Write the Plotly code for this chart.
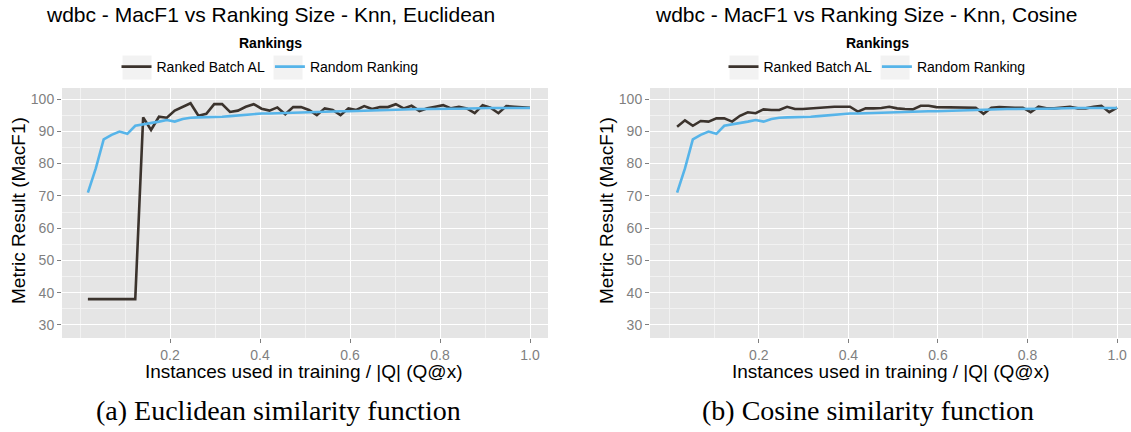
import plotly.graph_objects as go

# ---------------- data ----------------
n_points = 57
fractions = [k / n_points for k in range(1, n_points + 1)]

ranked_euclidean = [38.0, 38.0, 38.0, 38.0, 38.0, 38.0, 38.0, 94.3, 90.4, 94.5,
                    94.2, 96.4, 97.6, 98.7, 94.8, 95.4, 98.4, 98.4, 96.0, 96.4,
                    97.6, 98.4, 97.0, 96.4, 97.4, 95.3, 97.5, 97.5, 96.6, 95.0,
                    97.1, 96.6, 95.0, 97.1, 96.6, 97.8, 96.9, 97.5, 97.5, 98.4,
                    97.1, 97.9, 96.3, 97.1, 97.6, 98.1, 97.1, 97.6, 97.1, 95.6,
                    98.1, 97.3, 95.6, 97.8, 97.6, 97.5, 97.3]

ranked_cosine = [91.4, 93.4, 91.7, 93.2, 93.0, 94.0, 94.0, 93.0, 94.8, 95.9,
                 95.6, 96.8, 96.6, 96.6, 97.6, 96.9, 96.9, 97.1, 97.3, 97.6,
                 97.6, 97.6, 97.6, 96.1, 97.1, 97.1, 97.2, 97.6, 97.1, 96.9,
                 96.8, 97.9, 97.9, 97.5, 97.5, 97.5, 97.5, 97.5, 97.3, 95.4,
                 97.3, 97.5, 97.3, 97.3, 97.3, 95.9, 97.6, 97.1, 97.1, 97.3,
                 97.6, 97.1, 97.1, 97.6, 97.9, 95.9, 97.3]

random_ranking = [71.0, 78.5, 87.5, 88.9, 89.9, 89.2, 91.7, 92.1, 92.4, 93.0,
                  93.5, 93.0, 93.8, 94.2, 94.3, 94.3, 94.4, 94.5, 94.7, 94.9,
                  95.2, 95.4, 95.5, 95.5, 95.6, 95.6, 95.7, 95.8, 95.9, 95.9,
                  96.0, 96.1, 96.2, 96.2, 96.3, 96.4, 96.5, 96.5, 96.6, 96.7,
                  96.8, 96.9, 96.9, 96.9, 97.0, 97.0, 97.0, 97.0, 97.1, 97.1,
                  97.1, 97.2, 97.2, 97.2, 97.3, 97.3, 97.2]

series_names = ["Ranked Batch AL", "Random Ranking"]
titles = ["wdbc - MacF1 vs Ranking Size - Knn, Euclidean",
          "wdbc - MacF1 vs Ranking Size - Knn, Cosine"]
captions = ["(a) Euclidean similarity function", "(b) Cosine similarity function"]
x_ticks = [0.2, 0.4, 0.6, 0.8, 1.0]
x_tick_labels = ["0.2", "0.4", "0.6", "0.8", "1.0"]
y_ticks = [30, 40, 50, 60, 70, 80, 90, 100]
x_label = "Instances used in training / |Q| (Q@x)"
y_label = "Metric Result (MacF1)"

# ---------------- style ----------------
W, H = 1131, 432
RANKED_COLOR = "#3b332d"
RANDOM_COLOR = "#56B4E9"
PANEL = "#E5E5E5"
FONT = "Liberation Sans"

def px_x(p):
    return p / W

def px_y(p):
    return 1 - p / H

fig = go.Figure()

panels = [
    dict(xa="x", ya="y", leg="legend", ranked=ranked_euclidean),
    dict(xa="x2", ya="y2", leg="legend2", ranked=ranked_cosine),
]
for i, p in enumerate(panels):
    fig.add_trace(go.Scatter(x=fractions, y=p["ranked"], mode="lines",
                             name=series_names[0], xaxis=p["xa"], yaxis=p["ya"],
                             legend=p["leg"],
                             line=dict(color=RANKED_COLOR, width=2.6)))
    fig.add_trace(go.Scatter(x=fractions, y=random_ranking, mode="lines",
                             name=series_names[1], xaxis=p["xa"], yaxis=p["ya"],
                             legend=p["leg"],
                             line=dict(color=RANDOM_COLOR, width=2.6)))

y_dom = [px_y(338), px_y(88)]
x_doms = [[px_x(62), px_x(548)], [px_x(650), px_x(1131)]]
x_ranges = [[-0.04, 1.04], [-0.043, 1.031]]

def xaxis_cfg(dom, rng, anchor):
    return dict(domain=dom, range=rng, anchor=anchor,
                tickmode="array", tickvals=x_ticks, ticktext=x_tick_labels,
                ticks="outside", ticklen=4, tickcolor="#7f7f7f", tickwidth=1,
                tickfont=dict(family=FONT, size=14, color="#7f7f7f"),
                showgrid=True, gridcolor="white", gridwidth=1.2,
                minor=dict(tickmode="array", tickvals=[0.0, 0.1, 0.3, 0.5, 0.7, 0.9],
                           showgrid=True, gridcolor="#F2F2F2", gridwidth=0.6, ticks=""),
                zeroline=False, showline=False, fixedrange=True)

def yaxis_cfg(anchor):
    return dict(domain=y_dom, range=[25.97, 103.41], anchor=anchor,
                tickmode="array", tickvals=y_ticks,
                ticks="outside", ticklen=4, tickcolor="#7f7f7f", tickwidth=1,
                tickfont=dict(family=FONT, size=14, color="#7f7f7f"),
                showgrid=True, gridcolor="white", gridwidth=1.2,
                minor=dict(tickmode="array", tickvals=[35, 45, 55, 65, 75, 85, 95],
                           showgrid=True, gridcolor="#F2F2F2", gridwidth=0.6, ticks=""),
                zeroline=False, showline=False, fixedrange=True)

legend_common = dict(orientation="h", xanchor="center", yanchor="middle",
                     y=px_y(67), font=dict(family=FONT, size=14, color="black"),
                     bgcolor="rgba(0,0,0,0)", itemwidth=30, tracegroupgap=0)

fig.update_layout(
    width=W, height=H,
    margin=dict(l=0, r=0, t=0, b=0),
    paper_bgcolor="white",
    plot_bgcolor=PANEL,
    font=dict(family=FONT, color="black"),
    xaxis=xaxis_cfg(x_doms[0], x_ranges[0], "y"),
    yaxis=yaxis_cfg("x"),
    xaxis2=xaxis_cfg(x_doms[1], x_ranges[1], "y2"),
    yaxis2=yaxis_cfg("x2"),
    legend=dict(x=px_x(270), **legend_common),
    legend2=dict(x=px_x(877), **legend_common),
)

for xa, ya in [("x", "y"), ("x2", "y2")]:
    fig.add_shape(type="rect", xref=f"{xa} domain", yref=f"{ya} domain",
                  x0=0, x1=1, y0=0, y1=1, fillcolor=PANEL, line_width=0,
                  layer="below")

# grey legend key backgrounds (ggplot style)
for kx in [122, 273, 729, 880]:
    fig.add_shape(type="rect", xref="paper", yref="paper",
                  x0=px_x(kx), x1=px_x(kx + 30), y0=px_y(80), y1=px_y(55),
                  fillcolor="#F2F2F2", line=dict(color="white", width=1), layer="below")

ann = []
title_cx = [270, 866]
legend_cx = [270, 877]
xlabel_cx = [303, 890]
ylabel_x = [18, 606]
caption_cx = [278, 868]
for i in range(2):
    ann.append(dict(text=titles[i], x=px_x(title_cx[i]), y=px_y(15), xref="paper", yref="paper",
                    showarrow=False, xanchor="center", yanchor="middle",
                    font=dict(family=FONT, size=21, color="black")))
    ann.append(dict(text="<b>Rankings</b>", x=px_x(legend_cx[i]), y=px_y(43), xref="paper",
                    yref="paper", showarrow=False, xanchor="center", yanchor="middle",
                    font=dict(family=FONT, size=14, color="black")))
    ann.append(dict(text=x_label, x=px_x(xlabel_cx[i]), y=px_y(371), xref="paper", yref="paper",
                    showarrow=False, xanchor="center", yanchor="middle",
                    font=dict(family=FONT, size=19, color="black")))
    ann.append(dict(text=y_label, x=px_x(ylabel_x[i]), y=px_y(211), xref="paper", yref="paper",
                    showarrow=False, xanchor="center", yanchor="middle", textangle=-90,
                    font=dict(family=FONT, size=19, color="black")))
    ann.append(dict(text=captions[i], x=px_x(caption_cx[i]), y=px_y(410), xref="paper",
                    yref="paper", showarrow=False, xanchor="center", yanchor="middle",
                    font=dict(family="Liberation Serif", size=28, color="black")))
fig.update_layout(annotations=ann)

fig.write_html("out.html")
